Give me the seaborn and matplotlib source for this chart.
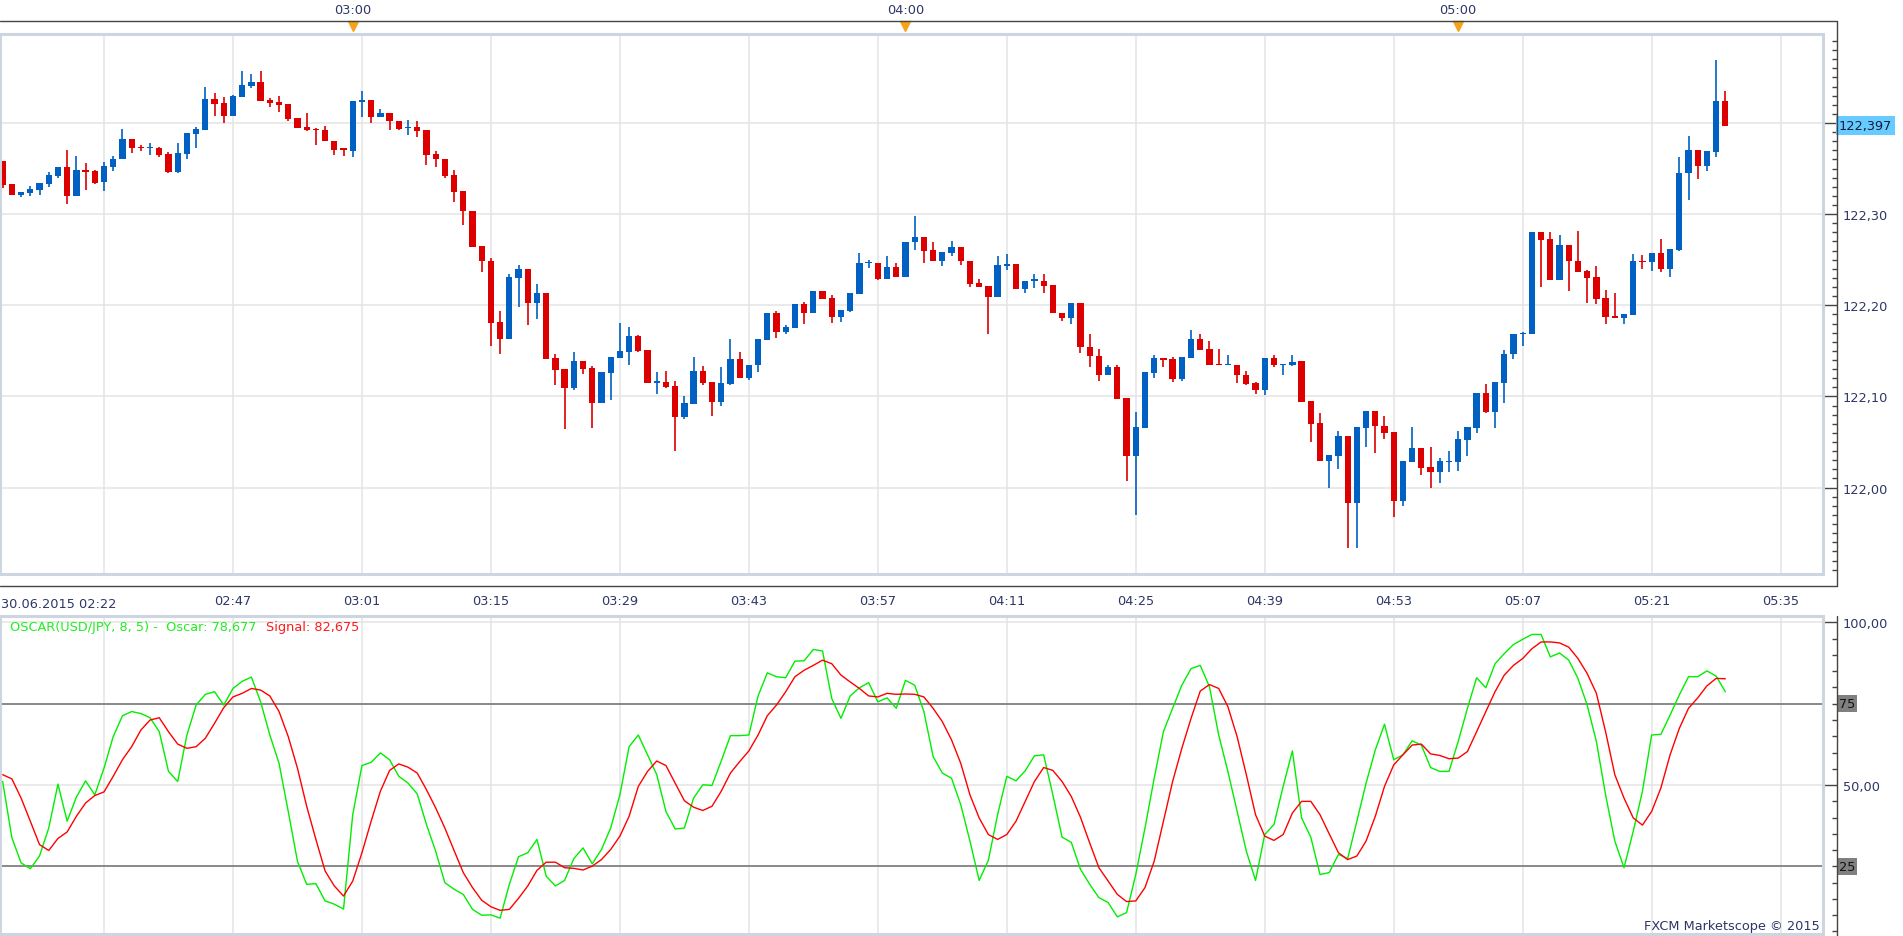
import numpy as np
import pandas as pd
import seaborn as sns
import matplotlib.pyplot as plt
import matplotlib.transforms as mtransforms
from matplotlib.patches import Rectangle
from matplotlib.lines import Line2D

sns.set_style('white')
plt.rcParams['font.family'] = ['DejaVu Sans']

# velas de 1 minuto USD/JPY, 30.06.2015 desde las 02:22
apertura = [122.358, 122.333, 122.321, 122.323, 122.327, 122.333, 122.342, 122.352, 122.320, 122.348,
            122.347, 122.335, 122.352, 122.361, 122.382, 122.374, 122.372, 122.373, 122.366, 122.346,
            122.366, 122.388, 122.392, 122.426, 122.422, 122.408, 122.429, 122.441, 122.445, 122.425,
            122.423, 122.421, 122.405, 122.396, 122.393, 122.392, 122.380, 122.372, 122.369, 122.423,
            122.425, 122.406, 122.411, 122.402, 122.394, 122.396, 122.392, 122.366, 122.360, 122.343,
            122.325, 122.303, 122.265, 122.249, 122.182, 122.163, 122.230, 122.240, 122.203, 122.214,
            122.142, 122.130, 122.109, 122.139, 122.131, 122.093, 122.126, 122.142, 122.149, 122.166,
            122.151, 122.115, 122.116, 122.111, 122.077, 122.092, 122.128, 122.116, 122.094, 122.114,
            122.141, 122.120, 122.134, 122.162, 122.192, 122.171, 122.175, 122.201, 122.192, 122.216,
            122.208, 122.187, 122.194, 122.212, 122.246, 122.246, 122.229, 122.242, 122.231, 122.269,
            122.275, 122.261, 122.249, 122.257, 122.264, 122.249, 122.224, 122.221, 122.209, 122.243,
            122.245, 122.218, 122.227, 122.227, 122.222, 122.192, 122.186, 122.202, 122.154, 122.144,
            122.124, 122.132, 122.098, 122.035, 122.065, 122.126, 122.142, 122.141, 122.119, 122.142,
            122.163, 122.152, 122.135, 122.134, 122.134, 122.124, 122.115, 122.107, 122.142, 122.134,
            122.134, 122.139, 122.095, 122.071, 122.029, 122.035, 122.057, 121.983, 122.065, 122.084,
            122.068, 122.061, 121.985, 122.028, 122.043, 122.023, 122.017, 122.028, 122.028, 122.052,
            122.065, 122.104, 122.083, 122.115, 122.147, 122.168, 122.169, 122.280, 122.273, 122.228,
            122.266, 122.249, 122.238, 122.231, 122.208, 122.188, 122.186, 122.189, 122.249, 122.247,
            122.257, 122.240, 122.261, 122.345, 122.370, 122.353, 122.368, 122.424]
maximo = [122.358, 122.333, 122.324, 122.331, 122.334, 122.346, 122.352, 122.370, 122.364, 122.356,
          122.348, 122.357, 122.364, 122.393, 122.382, 122.376, 122.378, 122.374, 122.368, 122.378,
          122.389, 122.396, 122.440, 122.433, 122.428, 122.431, 122.457, 122.454, 122.457, 122.427,
          122.430, 122.421, 122.405, 122.411, 122.395, 122.397, 122.380, 122.372, 122.424, 122.435,
          122.425, 122.415, 122.411, 122.402, 122.403, 122.402, 122.392, 122.369, 122.360, 122.348,
          122.325, 122.303, 122.265, 122.252, 122.194, 122.234, 122.244, 122.240, 122.223, 122.214,
          122.147, 122.130, 122.149, 122.139, 122.133, 122.127, 122.143, 122.181, 122.176, 122.167,
          122.151, 122.127, 122.128, 122.117, 122.101, 122.143, 122.133, 122.116, 122.132, 122.163,
          122.149, 122.134, 122.163, 122.192, 122.194, 122.178, 122.201, 122.204, 122.216, 122.216,
          122.211, 122.195, 122.213, 122.257, 122.250, 122.246, 122.254, 122.246, 122.269, 122.298,
          122.275, 122.269, 122.258, 122.271, 122.264, 122.249, 122.229, 122.221, 122.254, 122.256,
          122.245, 122.227, 122.234, 122.234, 122.222, 122.192, 122.202, 122.202, 122.169, 122.152,
          122.134, 122.134, 122.098, 122.083, 122.127, 122.145, 122.142, 122.143, 122.143, 122.173,
          122.169, 122.161, 122.152, 122.145, 122.134, 122.128, 122.116, 122.142, 122.145, 122.135,
          122.145, 122.139, 122.095, 122.082, 122.036, 122.062, 122.057, 122.066, 122.084, 122.084,
          122.078, 122.061, 122.029, 122.067, 122.043, 122.044, 122.033, 122.040, 122.062, 122.066,
          122.104, 122.114, 122.116, 122.151, 122.169, 122.171, 122.280, 122.280, 122.280, 122.277,
          122.266, 122.281, 122.239, 122.243, 122.217, 122.214, 122.190, 122.256, 122.255, 122.257,
          122.273, 122.262, 122.363, 122.386, 122.370, 122.369, 122.469, 122.435]
minimo = [122.329, 122.321, 122.319, 122.320, 122.321, 122.330, 122.340, 122.311, 122.320, 122.327,
          122.333, 122.325, 122.347, 122.361, 122.367, 122.369, 122.365, 122.363, 122.345, 122.345,
          122.361, 122.373, 122.392, 122.408, 122.400, 122.408, 122.429, 122.438, 122.424, 122.418,
          122.412, 122.402, 122.395, 122.391, 122.376, 122.380, 122.365, 122.364, 122.363, 122.407,
          122.400, 122.406, 122.392, 122.392, 122.387, 122.385, 122.354, 122.352, 122.340, 122.313,
          122.288, 122.264, 122.237, 122.155, 122.146, 122.163, 122.198, 122.178, 122.185, 122.141,
          122.112, 122.064, 122.107, 122.125, 122.065, 122.093, 122.096, 122.142, 122.135, 122.149,
          122.115, 122.103, 122.109, 122.040, 122.075, 122.092, 122.112, 122.079, 122.089, 122.112,
          122.120, 122.118, 122.127, 122.162, 122.164, 122.169, 122.175, 122.179, 122.192, 122.207,
          122.181, 122.182, 122.193, 122.212, 122.241, 122.228, 122.229, 122.231, 122.231, 122.261,
          122.246, 122.249, 122.243, 122.254, 122.244, 122.220, 122.220, 122.168, 122.209, 122.239,
          122.218, 122.214, 122.219, 122.213, 122.191, 122.183, 122.179, 122.148, 122.132, 122.117,
          122.124, 122.097, 122.007, 121.970, 122.065, 122.120, 122.132, 122.116, 122.117, 122.142,
          122.151, 122.134, 122.134, 122.134, 122.115, 122.112, 122.103, 122.102, 122.132, 122.124,
          122.133, 122.094, 122.050, 122.029, 121.999, 122.020, 121.934, 121.934, 122.044, 122.038,
          122.053, 121.968, 121.980, 122.028, 122.014, 121.999, 122.005, 122.017, 122.018, 122.035,
          122.060, 122.082, 122.065, 122.093, 122.141, 122.155, 122.169, 122.220, 122.228, 122.228,
          122.216, 122.237, 122.203, 122.201, 122.180, 122.186, 122.179, 122.189, 122.240, 122.238,
          122.236, 122.231, 122.259, 122.315, 122.338, 122.347, 122.363, 122.397]
cierre = [122.332, 122.321, 122.324, 122.328, 122.334, 122.343, 122.352, 122.320, 122.348, 122.346,
          122.334, 122.353, 122.361, 122.382, 122.373, 122.372, 122.373, 122.365, 122.346, 122.367,
          122.389, 122.393, 122.426, 122.421, 122.408, 122.430, 122.442, 122.445, 122.424, 122.422,
          122.420, 122.404, 122.395, 122.392, 122.392, 122.380, 122.370, 122.370, 122.424, 122.425,
          122.406, 122.411, 122.402, 122.393, 122.395, 122.391, 122.365, 122.360, 122.342, 122.324,
          122.303, 122.264, 122.249, 122.181, 122.163, 122.231, 122.240, 122.203, 122.214, 122.141,
          122.129, 122.109, 122.139, 122.130, 122.093, 122.127, 122.143, 122.150, 122.166, 122.150,
          122.115, 122.116, 122.110, 122.077, 122.093, 122.128, 122.115, 122.094, 122.115, 122.141,
          122.120, 122.134, 122.163, 122.192, 122.171, 122.176, 122.201, 122.192, 122.216, 122.207,
          122.187, 122.195, 122.213, 122.246, 122.247, 122.229, 122.242, 122.231, 122.269, 122.275,
          122.260, 122.249, 122.258, 122.264, 122.249, 122.223, 122.220, 122.209, 122.244, 122.245,
          122.218, 122.227, 122.228, 122.221, 122.191, 122.186, 122.202, 122.154, 122.144, 122.124,
          122.132, 122.097, 122.035, 122.066, 122.127, 122.142, 122.140, 122.119, 122.143, 122.163,
          122.151, 122.134, 122.134, 122.135, 122.123, 122.114, 122.107, 122.142, 122.135, 122.135,
          122.138, 122.094, 122.070, 122.029, 122.036, 122.057, 121.983, 122.066, 122.084, 122.068,
          122.060, 121.985, 122.029, 122.043, 122.022, 122.017, 122.029, 122.029, 122.053, 122.066,
          122.104, 122.083, 122.116, 122.147, 122.168, 122.169, 122.280, 122.272, 122.228, 122.266,
          122.249, 122.237, 122.230, 122.207, 122.187, 122.186, 122.190, 122.249, 122.247, 122.257,
          122.240, 122.262, 122.345, 122.370, 122.353, 122.369, 122.424, 122.397]

# indicador OSCAR(8, 5): linea oscar y linea de senal
oscar = [51.1, 33.8, 26.1, 24.3, 28.2, 36.8, 50.3, 38.9, 46.3, 51.3,
         47.0, 55.2, 64.9, 71.3, 72.6, 72.0, 70.7, 66.4, 54.2, 51.1,
         65.4, 74.6, 77.9, 78.7, 74.6, 79.7, 81.9, 83.2, 75.6, 65.4,
         56.7, 41.9, 26.6, 19.5, 19.7, 14.4, 13.4, 11.9, 40.9, 56.0,
         57.0, 59.9, 57.8, 52.7, 50.6, 47.3, 37.9, 29.7, 20.0, 18.0,
         16.4, 11.8, 10.0, 10.1, 9.1, 19.5, 28.0, 29.2, 33.3, 22.0,
         19.0, 20.7, 27.4, 30.7, 25.8, 30.2, 36.8, 47.0, 61.8, 65.4,
         59.3, 53.2, 41.9, 36.5, 36.8, 46.0, 50.1, 49.9, 57.4, 65.2,
         65.2, 65.4, 77.4, 84.5, 83.3, 83.0, 88.1, 88.2, 91.7, 91.2,
         76.6, 70.5, 77.4, 79.9, 81.5, 75.6, 76.8, 73.6, 82.2, 80.7,
         72.6, 58.8, 53.7, 52.1, 44.0, 32.8, 20.7, 26.9, 40.9, 52.7,
         51.3, 54.4, 59.0, 59.3, 47.0, 34.0, 32.4, 24.1, 19.5, 15.4,
         13.9, 9.5, 10.8, 22.5, 36.8, 52.1, 66.4, 73.6, 80.7, 85.8,
         86.8, 80.2, 65.4, 54.2, 41.9, 29.7, 20.7, 34.8, 37.9, 49.6,
         60.5, 39.9, 34.0, 22.5, 23.1, 28.7, 27.4, 38.9, 50.6, 60.8,
         68.7, 57.8, 59.3, 63.6, 62.3, 55.4, 54.2, 54.2, 63.4, 73.6,
         83.0, 79.9, 87.3, 90.4, 93.2, 94.8, 96.3, 96.3, 89.4, 90.6,
         88.4, 82.8, 74.6, 63.4, 47.0, 32.8, 24.6, 35.8, 48.1, 65.4,
         65.6, 71.5, 77.7, 83.3, 83.3, 85.1, 83.5, 78.677]
senal = [53.2, 51.9, 46.0, 38.9, 31.7, 29.9, 33.6, 35.6, 40.4, 44.5,
         46.8, 47.9, 52.7, 57.8, 61.8, 66.9, 70.0, 70.7, 66.4, 62.6,
         61.3, 61.8, 64.4, 69.0, 73.8, 77.1, 78.2, 79.7, 79.2, 77.4,
         72.6, 64.9, 55.2, 43.5, 33.3, 23.6, 19.0, 15.9, 20.5, 29.2,
         38.9, 48.1, 54.5, 56.5, 55.5, 53.7, 48.6, 43.0, 36.8, 29.9,
         23.1, 18.5, 14.6, 12.6, 11.5, 11.8, 15.2, 19.0, 23.8, 26.3,
         26.3, 24.6, 24.4, 23.9, 25.1, 27.1, 30.2, 34.3, 40.4, 49.6,
         54.2, 57.4, 56.0, 50.6, 45.2, 43.2, 42.2, 43.5, 48.1, 53.7,
         57.2, 60.5, 65.4, 71.3, 74.6, 78.7, 83.3, 85.3, 86.8, 88.4,
         87.3, 83.8, 81.7, 79.7, 77.4, 77.1, 78.2, 77.9, 78.0, 77.9,
         77.1, 73.6, 69.5, 63.9, 56.7, 47.0, 39.9, 34.8, 33.3, 34.8,
         38.9, 45.0, 51.1, 55.4, 54.5, 51.1, 46.5, 40.1, 32.2, 24.6,
         20.5, 16.4, 14.2, 14.4, 18.5, 26.6, 38.9, 51.1, 61.3, 70.5,
         78.9, 80.9, 79.7, 74.1, 64.9, 53.2, 40.9, 34.3, 33.0, 34.8,
         41.4, 45.0, 45.0, 40.9, 35.0, 29.2, 27.1, 28.2, 32.8, 40.4,
         49.6, 56.2, 59.3, 62.3, 62.6, 59.6, 59.1, 58.1, 58.3, 60.3,
         66.4, 72.6, 78.7, 83.8, 86.8, 88.9, 91.9, 94.0, 94.0, 93.7,
         92.4, 88.9, 84.3, 78.2, 66.4, 53.2, 46.0, 39.9, 37.7, 41.9,
         49.1, 59.3, 67.4, 73.6, 76.8, 80.5, 82.8, 82.675]

# armamos la tabla
df = pd.DataFrame({'apertura': apertura, 'maximo': maximo, 'minimo': minimo,
                   'cierre': cierre, 'oscar': oscar, 'senal': senal})
df['i'] = np.arange(len(df))
df['hora'] = pd.date_range('2015-06-30 02:22', periods=len(df), freq='min')
sube = df['cierre'] >= df['apertura']
df['color'] = np.where(sube, '#0061c2', '#dd0000')
df['base'] = df[['apertura', 'cierre']].min(axis=1)
df['cuerpo'] = (df['cierre'] - df['apertura']).abs().clip(lower=0.0016)

# eje de tiempo visible (un poco mas alla de la ultima vela)
eje_t = pd.date_range('2015-06-30 02:22', periods=198, freq='min')
pos = np.arange(len(eje_t))
xmin, xmax = -0.29, 197.6
marcas = pos[(pos - 11) % 14 == 0]
cuartos = pos[eje_t.minute % 15 == 0]
horas = pos[eje_t.minute == 0]

azul_txt = '#2d3667'
borde = '#cdd5e0'
rejilla = '#e4e4e4'
gris_eje = '#444444'

W, H = 1903, 937
fig = plt.figure(figsize=(W / 100, H / 100), dpi=100)


def ejes(izq, arriba, der, abajo):
    return fig.add_axes([izq / W, 1 - abajo / H, (der - izq) / W, (abajo - arriba) / H])


def linea_px(x0, y0, x1, y1):
    # linea del marco en pixeles de la figura
    fig.add_artist(Line2D([x0 / W, x1 / W], [1 - y0 / H, 1 - y1 / H],
                          transform=fig.transFigure, color=gris_eje, lw=1))


ax_top = ejes(0, 0, 1823, 22)
ax = ejes(0, 35, 1823, 575)
ax_osc = ejes(0, 617, 1823, 935)

# ---------------- franja superior con las horas
ax_top.set_xlim(xmin, xmax)
ax_top.set_ylim(0, 1)
for s in ['top', 'left', 'right', 'bottom']:
    ax_top.spines[s].set_visible(False)
ax_top.set_yticks([])
ax_top.set_xticks(cuartos)
medias = np.concatenate([cuartos - 7.5, [cuartos[-1] + 7.5]])
ax_top.set_xticks(medias[(medias > xmin) & (medias < xmax)], minor=True)
ax_top.tick_params(axis='x', which='major', direction='out', length=3.6, width=1,
                   color=gris_eje, labelbottom=False)
ax_top.tick_params(axis='x', which='minor', direction='out', length=2.2, width=1,
                   color=gris_eje)
for h in horas:
    ax_top.text(h, 0.5, eje_t[h].strftime('%H:%M'), ha='center', va='center',
                fontsize=9.3, color=azul_txt)
ax_top.plot(horas, [-0.24] * len(horas), ls='none', marker='v', ms=7,
            color='#f7a21b', clip_on=False)

# marco de ejes: linea superior, eje derecho y linea inferior del precio
linea_px(0, 22, 1837, 22)
linea_px(1837, 22, 1837, 587)
linea_px(0, 587, 1837, 587)
linea_px(1837, 617, 1837, 937)

# ---------------- panel de precios
ax.set_xlim(xmin, xmax)
ax.set_ylim(121.9052, 122.4976)
ax.vlines(df['i'], df['minimo'], df['maximo'], colors=df['color'], lw=1.2, zorder=3)
ax.bar(df['i'], df['cuerpo'], bottom=df['base'], width=0.68, color=df['color'],
       linewidth=0, zorder=4)

ax.set_xticks(marcas)
etiquetas = [eje_t[m].strftime('%H:%M') if m > 11 else '' for m in marcas]
ax.set_xticklabels(etiquetas)
menores_x = np.arange(0.5, xmax, 1.75)
ax.set_xticks(menores_x, minor=True)
niveles = [122.0, 122.1, 122.2, 122.3, 122.4]
ax.set_yticks(niveles)
ax.set_yticklabels(['122,00', '122,10', '122,20', '122,30', ''])
ax.set_yticks(np.arange(121.91, 122.495, 0.01), minor=True)
ax.yaxis.tick_right()
ax.grid(True, which='major', color=rejilla, lw=1.1)
ax.set_axisbelow(True)

for s in ['top', 'left', 'bottom', 'right']:
    ax.spines[s].set_visible(False)
ax.spines['bottom'].set_position(('outward', 8.6))
ax.spines['right'].set_position(('outward', 10.1))
ax.tick_params(axis='x', which='major', direction='in', length=6.7, width=1,
               color=gris_eje, labelsize=9.3, labelcolor=azul_txt, pad=6)
ax.tick_params(axis='x', which='minor', direction='in', length=3.6, width=1, color=gris_eje)
ax.tick_params(axis='y', which='major', direction='in', length=10.1, width=1,
               color=gris_eje, labelsize=9.3, labelcolor=azul_txt, pad=4)
ax.tick_params(axis='y', which='minor', direction='in', length=3.6, width=1, color=gris_eje)
ax.add_patch(Rectangle((0, 0), 1, 1, transform=ax.transAxes, fill=False,
                       edgecolor=borde, lw=2.2, clip_on=False, zorder=5))

fig.text(1 / W, 1 - 604 / H, '30.06.2015 ' + df['hora'][0].strftime('%H:%M'),
         ha='left', va='center', fontsize=9.3, color=azul_txt)

# ultimo precio
trans = mtransforms.blended_transform_factory(fig.transFigure, ax.transData)
ax.text(1839 / W, df['cierre'].iloc[-1], f"{df['cierre'].iloc[-1]:.3f}".replace('.', ','),
        transform=trans, ha='left', va='center', fontsize=9.3, color='#1a1a3a',
        bbox=dict(boxstyle='square,pad=0.22', facecolor='#66ccff', edgecolor='none'))

# ---------------- panel del oscilador
sns.lineplot(data=df, x='i', y='oscar', ax=ax_osc, color='#00ee00', lw=1)
sns.lineplot(data=df, x='i', y='senal', ax=ax_osc, color='#ff0000', lw=1)
ax_osc.set_xlim(xmin, xmax)
ax_osc.set_ylim(4.23, 101.97)
ax_osc.set_xlabel('')
ax_osc.set_ylabel('')
ax_osc.axhline(75, color='#808080', lw=1.3, zorder=1)
ax_osc.axhline(25, color='#808080', lw=1.3, zorder=1)
ax_osc.set_xticks(marcas)
ax_osc.tick_params(axis='x', which='both', length=0, labelbottom=False)
ax_osc.set_yticks([50, 100])
ax_osc.set_yticklabels(['50,00', '100,00'])
ax_osc.set_yticks(np.arange(5, 101, 5), minor=True)
ax_osc.yaxis.tick_right()
ax_osc.grid(True, which='major', color=rejilla, lw=1.1)
ax_osc.set_axisbelow(True)
for s in ['top', 'left', 'bottom', 'right']:
    ax_osc.spines[s].set_visible(False)
ax_osc.spines['right'].set_position(('outward', 10.1))
ax_osc.tick_params(axis='y', which='major', direction='in', length=10.1, width=1,
                   color=gris_eje, labelsize=9.3, labelcolor=azul_txt, pad=4)
ax_osc.tick_params(axis='y', which='minor', direction='in', length=3.6, width=1, color=gris_eje)
ax_osc.add_patch(Rectangle((0, 0), 1, 1, transform=ax_osc.transAxes, fill=False,
                           edgecolor=borde, lw=2.2, clip_on=False, zorder=5))

trans_o = mtransforms.blended_transform_factory(fig.transFigure, ax_osc.transData)
for nivel in [75, 25]:
    ax_osc.text(1839 / W, nivel, str(nivel), transform=trans_o, ha='left', va='center',
                fontsize=9.3, color='#111111',
                bbox=dict(boxstyle='square,pad=0.15', facecolor='#808080', edgecolor='none'))

# leyenda del indicador
ult_o = f"{df['oscar'].iloc[-1]:.3f}".replace('.', ',')
ult_s = f"{df['senal'].iloc[-1]:.3f}".replace('.', ',')
t_verde = fig.text(10 / W, 1 - 628 / H, f'OSCAR(USD/JPY, 8, 5) -  Oscar: {ult_o}',
                   ha='left', va='center', fontsize=9.3, color='#22ee22')
ax_osc.annotate(f'Signal: {ult_s}', xy=(1, 0.5), xycoords=t_verde, xytext=(7, 0),
                textcoords='offset points', ha='left', va='center', fontsize=9.3,
                color='#ff1a1a', annotation_clip=False)

fig.text(1820 / W, 1 - 927 / H, 'FXCM Marketscope \u00a9 2015', ha='right', va='center',
         fontsize=9.3, color=azul_txt)

plt.savefig('out.png', dpi=100, facecolor='white')
